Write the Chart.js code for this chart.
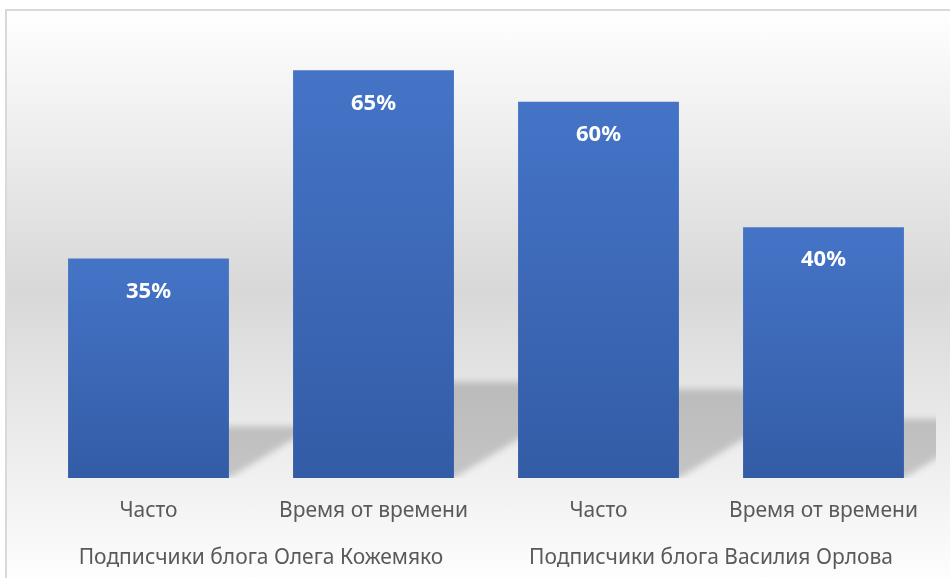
<!DOCTYPE html>
<html>
<head>
<meta charset="utf-8">
<script src="https://cdn.jsdelivr.net/npm/chart.js@4/dist/chart.umd.min.js"></script>
<style>
  html, body { margin: 0; padding: 0; background: #fff; overflow: hidden; }
  #frame {
    position: absolute; left: 5px; top: 9px; width: 1000px; height: 580px;
    border: 2px solid #d9d9d9;
    background: linear-gradient(to bottom, #ffffff 0%, #d8d8d8 48%, #ffffff 100%);
  }
  #wrap { position: absolute; left: 0; top: 0; width: 950px; height: 578px; }
</style>
</head>
<body>
<div id="frame"></div>
<div id="wrap"><canvas id="chart" width="950" height="578"></canvas></div>
<script>
const categories = ['Часто', 'Время от времени', 'Часто', 'Время от времени'];
const groups = ['Подписчики блога Олега Кожемяко', 'Подписчики блога Василия Орлова'];
const shares = [0.35, 0.65, 0.60, 0.40];

const FONT = '"Noto Sans", "DejaVu Sans", sans-serif';

// soft skewed shadow cast behind each bar
const barShadow = {
  id: 'barShadow',
  beforeDatasetsDraw(chart) {
    const ctx = chart.ctx;
    const area = chart.chartArea;
    ctx.save();
    ctx.beginPath();
    ctx.rect(area.left, area.top, area.right - area.left, area.bottom - area.top);
    ctx.clip();
    ctx.filter = 'blur(3px)';
    ctx.fillStyle = 'rgba(0, 0, 0, 0.18)';
    chart.getDatasetMeta(0).data.forEach((bar) => {
      const half = bar.width / 2;
      const h = (bar.base - bar.y) * 0.235;
      const dx = h * 1.65;
      ctx.beginPath();
      ctx.moveTo(bar.x - half, bar.base);
      ctx.lineTo(bar.x + half, bar.base);
      ctx.lineTo(bar.x + half + dx, bar.base - h);
      ctx.lineTo(bar.x - half + dx, bar.base - h);
      ctx.closePath();
      ctx.fill();
    });
    ctx.restore();
  }
};

// percentage labels inside the top of each bar
const barLabels = {
  id: 'barLabels',
  afterDatasetsDraw(chart) {
    const ctx = chart.ctx;
    ctx.save();
    ctx.fillStyle = '#ffffff';
    ctx.font = 'bold 22px ' + FONT;
    ctx.textAlign = 'center';
    ctx.textBaseline = 'middle';
    chart.getDatasetMeta(0).data.forEach((bar, i) => {
      ctx.fillText(Math.round(shares[i] * 100) + '%', bar.x, bar.y + 33);
    });
    ctx.restore();
  }
};

function barFill(context) {
  const chart = context.chart;
  if (!chart.chartArea) return '#3d68b6';
  const y = chart.scales.y;
  const top = y.getPixelForValue(shares[context.dataIndex]);
  const bottom = y.getPixelForValue(0);
  const g = chart.ctx.createLinearGradient(0, top, 0, bottom);
  g.addColorStop(0, '#4574c7');
  g.addColorStop(1, '#335ca6');
  return g;
}

const chart = new Chart(document.getElementById('chart'), {
  type: 'bar',
  data: {
    labels: categories,
    datasets: [{
      data: shares,
      backgroundColor: barFill,
      borderWidth: 0,
      barPercentage: 1,
      categoryPercentage: 0.715,
    }],
  },
  options: {
    responsive: false,
    animation: false,
    layout: { padding: { left: 36, right: 14, top: 39, bottom: 0 } },
    plugins: { legend: { display: false }, tooltip: { enabled: false } },
    scales: {
      y: { display: false, min: 0, max: 0.7 },
      x: {
        grid: { display: false, drawTicks: false },
        border: { display: false },
        ticks: { color: '#595959', font: { family: FONT, size: 21 }, padding: 20 },
        afterFit: (scale) => { scale.height = 58; },
      },
      x2: {
        type: 'category',
        position: 'bottom',
        labels: groups,
        offset: true,
        grid: { display: false, drawTicks: false },
        border: { display: false },
        ticks: { color: '#595959', font: { family: FONT, size: 21 }, padding: 9 },
        afterFit: (scale) => { scale.height = 42; },
      },
    },
  },
  plugins: [barShadow, barLabels],
});
chart.update();
</script>
</body>
</html>
